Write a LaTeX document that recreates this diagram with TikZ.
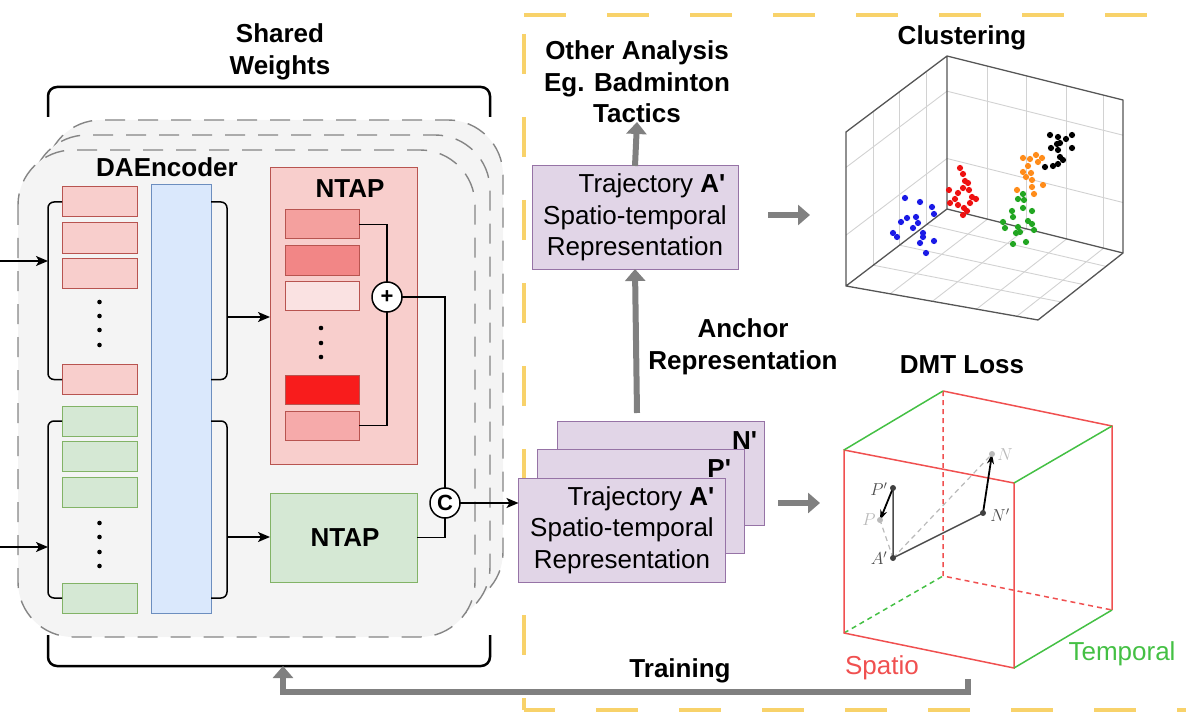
\documentclass[tikz,border=0pt]{standalone}
\usepackage[no-math]{fontspec}
\setmainfont{Liberation Sans}
\usetikzlibrary{arrows.meta,calc}
\definecolor{rfill}{HTML}{F8CECC}
\definecolor{rdraw}{HTML}{B85450}
\definecolor{gfill}{HTML}{D5E8D4}
\definecolor{gdraw}{HTML}{82B366}
\definecolor{bfill}{HTML}{DAE8FC}
\definecolor{bdraw}{HTML}{6C8EBF}
\definecolor{pfill}{HTML}{E1D5E7}
\definecolor{pdraw}{HTML}{9673A6}
\definecolor{layerfill}{HTML}{F4F4F4}
\definecolor{layerdraw}{HTML}{858585}
\definecolor{gold}{HTML}{F8D26A}
\definecolor{garr}{HTML}{808080}
\definecolor{cubered}{HTML}{F05050}
\definecolor{cubegreen}{HTML}{44C044}
\definecolor{cblue}{HTML}{1A1AE6}
\definecolor{cred}{HTML}{EE1111}
\definecolor{corange}{HTML}{FF8C1A}
\definecolor{cgreen}{HTML}{22A622}
\definecolor{gridc}{HTML}{D2D2D2}
\definecolor{boxc}{HTML}{555555}
\newcommand{\apos}{\textquotesingle}
\begin{document}
\begin{tikzpicture}[x=1pt,y=-1pt,
  every node/.style={inner sep=0pt,outer sep=0pt},
  txt/.style={font=\fontsize{26}{31.5}\selectfont,align=center},
  btxt/.style={font=\fontsize{26}{31.5}\selectfont\bfseries,align=center},
  encr/.style={draw=rdraw,fill=rfill,line width=1pt,minimum width=75pt,minimum height=30pt},
  encg/.style={draw=gdraw,fill=gfill,line width=1pt,minimum width=75pt,minimum height=30pt},
  ntapin/.style={draw=rdraw,line width=1pt,minimum width=74pt,minimum height=29pt},
  pbox/.style={draw=pdraw,fill=pfill,line width=1pt,minimum width=207pt,minimum height=104pt},
  layer/.style={draw=layerdraw,fill=layerfill,line width=1.4pt,dash pattern=on 20pt off 13pt,rounded corners=55pt},
  brk/.style={draw=black,line width=1.5pt,rounded corners=6pt},
  bigbrk/.style={draw=black,line width=2.5pt,rounded corners=9pt},
  conn/.style={draw=black,line width=1.5pt},
  carrow/.style={conn,-{Stealth[length=12pt,width=10pt,inset=3pt]}},
  garrow/.style={draw=garr,line width=6pt,-{Triangle[length=12pt,width=20pt]}},
  opcirc/.style={circle,draw=black,fill=white,line width=1.5pt,minimum size=30pt,font=\fontsize{22}{22}\selectfont\bfseries},
  ylw/.style={draw=gold,line width=4pt}
]
\useasboundingbox (0,0) rectangle (1186,714);

% ---------- yellow dashed frame ----------
\draw[ylw,dash pattern=on 42pt off 41pt] (524,15) -- (1186,15);
\draw[ylw,dash pattern=on 40pt off 43pt] (524,34) -- (524,710);
\draw[ylw,dash pattern=on 42pt off 41pt,dash phase=11pt] (524,710) -- (1186,710);

% ---------- stacked shared-weight layers ----------
\path[layer] (46,120) rectangle (503,607);
\path[layer] (32,135) rectangle (490,622);
\path[layer] (18,150) rectangle (475,637);

% ---------- Shared Weights bracket ----------
\node[btxt] (shared) at (280,52) {Shared\\Weights};
\draw[bigbrk] (48,117) -- (48,87) -- (490,87) -- (490,117);
\draw[bigbrk] (48,635) -- (48,666) -- (490,666) -- (490,635);
\coordinate (brkbottom) at (283,666);

% ---------- DAEncoder ----------
\node[btxt] (daenc) at (167,167) {DAEncoder};
\node[draw=bdraw,fill=bfill,line width=1pt,minimum width=60pt,minimum height=428pt] (blue) at (181,399) {};

\node[encr] (r1) at (99.5,202) {};
\node[encr] (r2) at (99.5,238) {};
\node[encr] (r3) at (99.5,273) {};
\node[encr] (r4) at (99.5,379.5) {};
\foreach \yy in {302,316,330,345} \fill (99.5,\yy) circle (2.3pt);

\node[encg] (g1) at (99.5,421) {};
\node[encg] (g2) at (99.5,456) {};
\node[encg] (g3) at (99.5,492) {};
\node[encg] (g4) at (99.5,598) {};
\foreach \yy in {523,537,552,566} \fill (99.5,\yy) circle (2.3pt);

% brackets
\draw[brk] (r1.west) -- (48,202) -- (48,379.5) -- (r4.west);
\draw[brk] (g1.west) -- (48,421) -- (48,598) -- (g4.west);
\draw[brk] (blue.east |- r1) -- (227,202) -- (227,379.5) -- (blue.east |- r4);
\draw[brk] (blue.east |- g1) -- (227,421) -- (227,598) -- (blue.east |- g4);

\coordinate (inr) at (0,261);
\coordinate (inrb) at (48,261);
\coordinate (ing) at (0,547);
\coordinate (ingb) at (48,547);
\draw[carrow] (inr) -- (inrb);
\draw[carrow] (ing) -- (ingb);

% ---------- NTAP (red) ----------
\node[draw=rdraw,fill=rfill,line width=1pt,minimum width=147pt,minimum height=296pt] (ntapr) at (343.5,316) {};
\node[btxt] (ntaprl) at (350,189) {NTAP};
\node[ntapin,fill={rgb,255:red,244;green,160;blue,158}] (n1) at (322,224.5) {};
\node[ntapin,fill={rgb,255:red,242;green,134;blue,134}] (n2) at (322,260.5) {};
\node[ntapin,fill={rgb,255:red,250;green,226;blue,226}] (n3) at (322,295.5) {};
\node[ntapin,fill={rgb,255:red,248;green,28;blue,28}] (n4) at (322,389.5) {};
\node[ntapin,fill={rgb,255:red,246;green,170;blue,170}] (n5) at (322,425.5) {};
\foreach \yy in {328,343,357} \fill (321,\yy) circle (2.3pt);

\coordinate (rbo) at (227,317);
\coordinate (gbo) at (227,537);
\draw[carrow] (rbo) -- (ntapr.west |- rbo);

% ---------- NTAP (green) ----------
\node[draw=gdraw,fill=gfill,line width=1pt,minimum width=147pt,minimum height=89pt] (ntapg) at (343.5,537.5) {};
\node[btxt] (ntapgl) at (345,538) {NTAP};
\draw[carrow] (gbo) -- (ntapg.west |- gbo);

\node[opcirc] (plus) at (387,297) {+};
\node[opcirc] (cat) at (445,503) {C};

\draw[conn] (n1.east) -| (plus.north);
\draw[conn] (n5.east) -| (plus.south);
\draw[conn] (plus.east) -| (cat.north);
\draw[conn] (ntapg.east) -| (cat.south);

% ---------- stacked representations ----------
\node[pbox] (nbox) at (661,473) {};
\node[pbox] (pbx) at (641,501) {};
\node[pbox] (abox) at (622,530) {};
\node[btxt,anchor=east] (nlab) at (757,441) {N\apos};
\node[btxt,anchor=east] (plab) at (731,469) {P\apos};
\node[txt] (atext) at (622,530) {\hspace*{38pt}Trajectory \textbf{A\apos}\\Spatio-temporal\\Representation};
\draw[carrow] (cat.east) -- (abox.west |- cat);

% ---------- top representation ----------
\node[pbox,minimum width=206pt,minimum height=103pt] (tbox) at (635,217.5) {};
\node[txt] (ttext) at (635,217.5) {\hspace*{34pt}Trajectory \textbf{A\apos}\\Spatio-temporal\\Representation};
\node[btxt] (other) at (637,82) {Other Analysis\\Eg. Badminton\\Tactics};
\coordinate (otherb) at (637,122);
\draw[garrow] (tbox.north) -- (otherb);

\node[btxt] (anchor) at (743,347) {Anchor\\Representation};
\coordinate (stacktop) at (637,413);
\draw[garrow] (stacktop) -- (tbox.south);

\coordinate (ta1) at (768,215);
\coordinate (ta2) at (810,215);
\draw[garrow] (ta1) -- (ta2);
\coordinate (ba1) at (778,503);
\coordinate (ba2) at (820,503);
\draw[garrow] (ba1) -- (ba2);

% ---------- Clustering plot ----------
\node[btxt] (clust) at (962,38) {Clustering};
\coordinate (A) at (947,56);
\coordinate (B) at (846,132);
\coordinate (C) at (846,286);
\coordinate (D) at (947,209);
\coordinate (E) at (1123,100);
\coordinate (F) at (1123,253);
\coordinate (G) at (1038,320);
\begin{scope}[draw=gridc,line width=0.9pt]
\foreach \t in {0.2,0.47,0.73} {
  \draw ($(D)!\t!(C)$) -- ($(A)!\t!(B)$);
  \draw ($(D)!\t!(C)$) -- ($(F)!\t!(G)$);
}
\foreach \s in {0.23,0.45,0.68,0.89} {
  \draw ($(D)!\s!(F)$) -- ($(A)!\s!(E)$);
  \draw ($(D)!\s!(F)$) -- ($(C)!\s!(G)$);
}
\foreach \h in {0.33,0.77} {
  \draw ($(D)!\h!(A)$) -- ($(C)!\h!(B)$);
  \draw ($(D)!\h!(A)$) -- ($(F)!\h!(E)$);
}
\end{scope}
\draw[boxc,line width=1.3pt,line join=round] (C) -- (B) -- (A) -- (E) -- (F) -- (G) -- (C) -- (D) -- (A);
\draw[boxc,line width=1.3pt] (D) -- (F);

\foreach \p in {(905,198),(920,202),(932,207),(934,214),(901,222),(907,218),(916,217),(918,223),(913,228),(893,233),(897,237),(923,233),(923,237),(920,243),(934,241),(926,253)}
  \fill[cblue] \p circle (3.1pt);
\foreach \p in {(960,168),(963,174),(965,181),(968,183),(963,188),(969,190),(949,190),(958,193),(972,197),(955,199),(976,199),(950,203),(958,205),(970,203),(964,208),(967,211),(963,215)}
  \fill[cred] \p circle (3.1pt);
\foreach \p in {(1023,158),(1030,159),(1036,155),(1042,158),(1038,162),(1028,166),(1023,172),(1031,173),(1026,177),(1032,180),(1043,185),(1017,190),(1032,187),(1034,194)}
  \fill[corange] \p circle (3.1pt);
\foreach \p in {(1050,135),(1058,137),(1066,139),(1072,135),(1057,144),(1060,143),(1051,148),(1058,150),(1072,148),(1060,157),(1063,160),(1058,164),(1053,166),(1045,167)}
  \fill[black] \p circle (3.1pt);
\foreach \p in {(1023,194),(1018,199),(1024,200),(1012,211),(1023,208),(1032,211),(1013,217),(1003,222),(1028,221),(1032,224),(1005,228),(1018,227),(1034,230),(1020,232),(1016,233),(1013,244),(1026,242)}
  \fill[cgreen] \p circle (3.1pt);

% ---------- DMT Loss cube ----------
\node[btxt] (dmt) at (962,365) {DMT Loss};
\coordinate (TLb) at (943,391);
\coordinate (TLf) at (844,450);
\coordinate (TRb) at (1112,426);
\coordinate (TRf) at (1014,483);
\coordinate (BLf) at (844,633);
\coordinate (BRf) at (1014,668);
\coordinate (BRb) at (1112,610);
\coordinate (BLb) at (943,576);
\begin{scope}[line width=1.5pt]
\draw[cubered,dash pattern=on 5pt off 4pt] (TLb) -- (BLb) -- (BRb);
\draw[cubegreen,dash pattern=on 5pt off 4pt] (BLf) -- (BLb);
\draw[cubered] (TLf) -- (TRf) -- (BRf) -- (BLf) -- cycle;
\draw[cubered] (TLb) -- (TRb) -- (BRb);
\draw[cubegreen] (TLf) -- (TLb);
\draw[cubegreen] (TRf) -- (TRb);
\draw[cubegreen] (BRf) -- (BRb);
\end{scope}
\coordinate (Pp) at (893,488);
\coordinate (P) at (880,520);
\coordinate (Ap) at (893,558);
\coordinate (Np) at (983,513);
\coordinate (N) at (992,454);
\draw[gray!55,line width=1.2pt,dash pattern=on 5pt off 4pt] (Ap) -- (P);
\draw[gray!55,line width=1.2pt,dash pattern=on 5pt off 4pt] (Ap) -- (N);
\draw[black!70,line width=1.5pt] (Pp) -- (Ap) -- (Np);
\draw[black,line width=1.8pt,-{Stealth[length=10pt,width=7pt]}] (Pp) -- (P);
\draw[black,line width=1.8pt,-{Stealth[length=10pt,width=7pt]}] (Np) -- (N);
\fill[black!75] (Pp) circle (3pt) (Ap) circle (3pt) (Np) circle (3pt);
\fill[gray!55] (P) circle (3pt) (N) circle (3pt);
\node[font=\fontsize{17}{17}\selectfont,text=black!70] (lPp) at (879,489) {$P'$};
\node[font=\fontsize{17}{17}\selectfont,text=gray!55] (lP) at (869,520) {$P$};
\node[font=\fontsize{17}{17}\selectfont,text=black!70] (lAp) at (879,558) {$A'$};
\node[font=\fontsize{17}{17}\selectfont,text=black!70] (lNp) at (1000,515) {$N'$};
\node[font=\fontsize{17}{17}\selectfont,text=gray!55] (lN) at (1005,455) {$N$};
\node[txt,text=cubered] (spatio) at (882,668) {Spatio};
\node[txt,text=cubegreen] (temporal) at (1122,654) {Temporal};

% ---------- Training feedback ----------
\node[btxt] (training) at (680,671) {Training};
\coordinate (trs) at (968,679);
\draw[garrow] (trs) -- (968,692) -| (brkbottom);
\end{tikzpicture}
\end{document}
